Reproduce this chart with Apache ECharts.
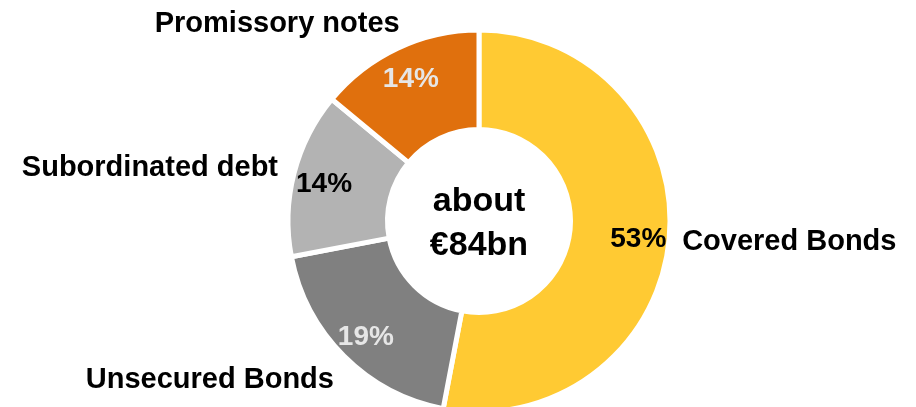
<!DOCTYPE html>
<html>
<head>
<meta charset="utf-8">
<script src="https://cdn.jsdelivr.net/npm/echarts@6/dist/echarts.min.js"></script>
<style>
  html, body { margin: 0; padding: 0; background: #ffffff; }
  #chart { width: 916px; height: 407px; }
</style>
</head>
<body>
<div id="chart"></div>
<script>
// ---- Data ----
var categories = ['Covered Bonds', 'Unsecured Bonds', 'Subordinated debt', 'Promissory notes'];
var shares = [53, 19, 14, 14];
var sliceColors = ['#FFCA33', '#808080', '#B3B3B3', '#E0700D'];
var pctLabelColors = ['#000000', '#E6E6E6', '#000000', '#E6E6E6'];
var centerText = ['about', '€84bn'];

// label nudges (layout only)
var nameNudge = [[8, 3], [-5, 24], [-11, -5.5], [7, -24]];

var FONT = 'Arial, "Liberation Sans", sans-serif';

var chart = echarts.init(document.getElementById('chart'), null, { renderer: 'canvas' });

var mainData = categories.map(function (c, i) {
  return { name: c, value: shares[i], itemStyle: { color: sliceColors[i] } };
});
var labelData = categories.map(function (c, i) {
  return {
    name: c, value: shares[i],
    itemStyle: { color: 'rgba(0,0,0,0)' },
    label: { color: pctLabelColors[i] }
  };
});

chart.setOption({
  animation: false,
  backgroundColor: '#ffffff',
  graphic: [{
    type: 'text',
    x: 479, y: 224,
    style: {
      text: centerText.join('\n'),
      font: 'bold 34px ' + FONT,
      fill: '#000000',
      align: 'center',
      verticalAlign: 'middle',
      lineHeight: 44
    }
  }],
  series: [
    {
      type: 'pie',
      center: [479, 221],
      radius: [91.5, 191],
      startAngle: 90,
      clockwise: true,
      silent: true,
      itemStyle: { borderColor: '#ffffff', borderWidth: 5 },
      label: {
        show: true,
        position: 'outside',
        formatter: '{b}',
        fontFamily: FONT,
        fontWeight: 'bold',
        fontSize: 29,
        color: '#000000'
      },
      labelLine: { show: false, length: 0, length2: 0 },
      labelLayout: function (p) {
        var n = nameNudge[p.dataIndex];
        return { dx: n[0], dy: n[1] };
      },
      data: mainData
    },
    {
      type: 'pie',
      center: [479, 224],
      radius: [126, 188],
      startAngle: 90,
      clockwise: true,
      silent: true,
      z: 3,
      label: {
        show: true,
        position: 'inside',
        formatter: '{c}%',
        fontFamily: FONT,
        fontWeight: 'bold',
        fontSize: 28
      },
      labelLine: { show: false },
      data: labelData
    }
  ]
});
</script>
</body>
</html>
